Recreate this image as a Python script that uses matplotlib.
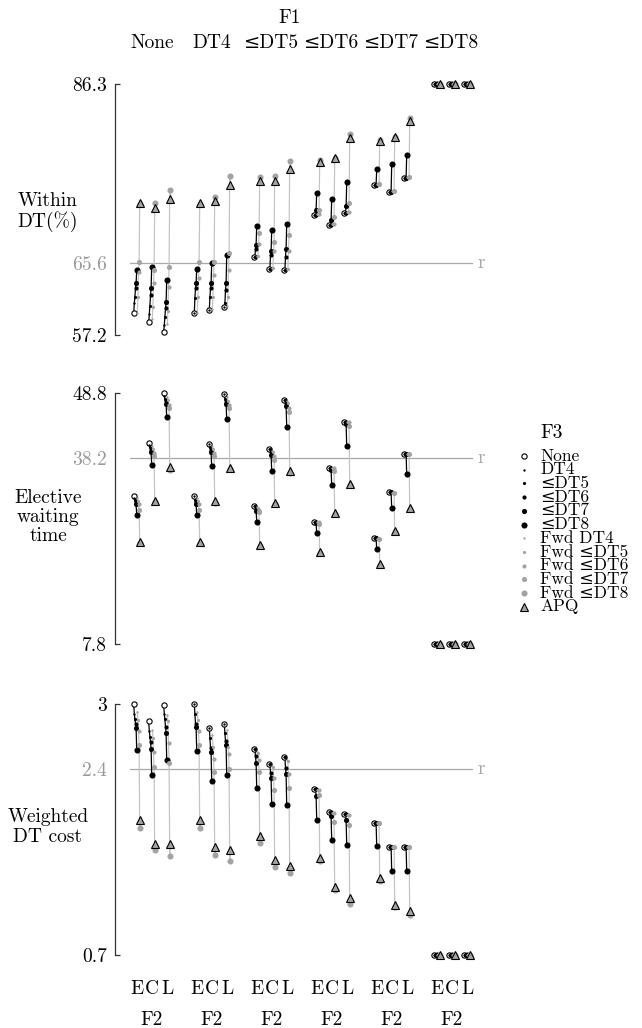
import numpy as np
import matplotlib
matplotlib.use("Agg")
import matplotlib.pyplot as plt
from matplotlib import transforms

plt.rcParams['font.family'] = ['cmr10', 'DejaVu Serif']
plt.rcParams['mathtext.fontset'] = 'cm'
plt.rcParams['axes.formatter.use_mathtext'] = True

# labels
f1_labels = ['None', 'DT4', '≤DT5', '≤DT6', '≤DT7', '≤DT8']
f2_labels = ['E', 'C', 'L']
f3_labels = ['None', 'DT4', '≤DT5', '≤DT6', '≤DT7', '≤DT8',
             'Fwd DT4', 'Fwd ≤DT5', 'Fwd ≤DT6', 'Fwd ≤DT7', 'Fwd ≤DT8', 'APQ']
panel_names = ['Within\nDT(%)', 'Elective\nwaiting\ntime', 'Weighted\nDT cost']

# axis ticks: (min, reference r, max)
within_ticks = [57.2, 65.6, 86.3]
elective_ticks = [7.8, 38.2, 48.8]
weighted_ticks = [0.7, 2.4, 3.0]

# one row per (F1, F2) column, values in F3 order
within = [
    # F1 None : E, C, L
    [59.7, 60.9, 61.6, 62.7, 63.2, 64.7, 59.8, 61.6, 64.5, 65.7, 72.4, 72.5],
    [58.7, 59.6, 60.6, 61.8, 62.6, 65.1, 59.1, 60.5, 63.2, 64.7, 72.5, 71.9],
    [57.6, 58.4, 59.3, 60.3, 61.0, 63.6, 58.5, 60.0, 62.8, 65.1, 74.0, 73.0],
    # DT4
    [59.7, 59.7, 61.5, 62.6, 63.2, 64.9, 59.8, 61.6, 63.8, 65.7, 72.4, 72.5],
    [60.1, 60.1, 61.6, 62.6, 63.2, 65.6, 60.2, 61.6, 64.2, 65.7, 73.2, 72.7],
    [60.4, 60.4, 60.9, 62.4, 63.2, 66.5, 60.6, 61.6, 64.7, 66.7, 75.6, 74.6],
    # <=DT5
    [66.3, 66.3, 66.3, 67.2, 67.6, 69.8, 66.4, 66.4, 67.8, 69.0, 75.5, 75.0],
    [64.9, 64.9, 64.9, 66.5, 66.9, 69.4, 65.0, 65.0, 66.9, 68.0, 75.6, 75.0],
    [64.7, 64.7, 64.7, 66.3, 67.2, 70.1, 64.8, 64.8, 66.9, 68.8, 77.4, 76.5],
    # <=DT6
    [71.1, 71.1, 71.1, 71.1, 71.7, 73.7, 71.2, 71.2, 71.2, 71.7, 77.5, 77.3],
    [70.0, 70.0, 70.0, 70.0, 70.5, 73.0, 70.1, 70.1, 70.1, 70.9, 77.7, 77.7],
    [71.4, 71.4, 71.4, 71.4, 72.1, 74.9, 71.5, 71.5, 71.5, 72.5, 80.5, 80.0],
    # <=DT7
    [74.6, 74.6, 74.6, 74.6, 74.6, 76.4, 74.7, 74.7, 74.7, 74.7, 79.8, 79.7],
    [73.8, 73.8, 73.8, 73.8, 73.8, 77.0, 73.9, 73.9, 73.9, 73.9, 80.2, 80.1],
    [75.4, 75.4, 75.4, 75.4, 75.4, 78.1, 75.5, 75.5, 75.5, 75.5, 82.4, 82.0],
    # <=DT8
    [86.3, 86.3, 86.3, 86.3, 86.3, 86.3, 86.3, 86.3, 86.3, 86.3, 86.3, 86.3],
    [86.3, 86.3, 86.3, 86.3, 86.3, 86.3, 86.3, 86.3, 86.3, 86.3, 86.3, 86.3],
    [86.3, 86.3, 86.3, 86.3, 86.3, 86.3, 86.3, 86.3, 86.3, 86.3, 86.3, 86.3],
]

elective = [
    [31.9, 31.6, 31.3, 31.0, 30.6, 28.9, 31.6, 31.2, 30.6, 29.7, 24.3, 24.5],
    [40.7, 40.3, 39.9, 39.5, 39.2, 37.0, 40.2, 39.6, 39.0, 38.5, 31.0, 31.2],
    [48.8, 48.3, 47.9, 47.5, 47.0, 44.8, 48.2, 47.6, 46.9, 46.4, 36.3, 36.7],
    [31.9, 31.9, 31.4, 31.0, 30.6, 28.9, 31.7, 31.2, 30.6, 29.7, 24.3, 24.5],
    [40.5, 40.5, 39.9, 39.5, 39.1, 36.8, 40.2, 39.6, 39.0, 38.5, 30.9, 31.1],
    [48.6, 48.6, 47.9, 47.4, 47.0, 44.5, 48.2, 47.5, 46.9, 46.4, 36.4, 36.6],
    [30.3, 30.3, 30.3, 29.9, 29.6, 27.8, 30.1, 30.0, 29.7, 29.3, 23.8, 24.0],
    [39.6, 39.6, 39.6, 39.1, 38.7, 36.0, 39.4, 39.2, 38.5, 37.9, 30.6, 30.8],
    [47.7, 47.7, 47.7, 47.1, 46.6, 43.3, 47.5, 47.2, 46.4, 45.7, 35.8, 36.0],
    [27.8, 27.8, 27.8, 27.8, 27.6, 25.9, 27.7, 27.7, 27.7, 27.4, 22.6, 22.8],
    [36.6, 36.6, 36.6, 36.6, 36.3, 33.7, 36.5, 36.5, 36.5, 36.0, 29.0, 29.2],
    [44.1, 44.1, 44.1, 44.1, 43.8, 40.1, 44.0, 44.0, 44.0, 43.4, 33.7, 33.9],
    [25.1, 25.1, 25.1, 25.1, 25.1, 23.3, 25.0, 25.0, 25.0, 25.0, 20.7, 20.9],
    [32.6, 32.6, 32.6, 32.6, 32.6, 30.0, 32.5, 32.5, 32.5, 32.5, 26.1, 26.3],
    [38.9, 38.9, 38.9, 38.9, 38.9, 35.5, 38.8, 38.8, 38.8, 38.8, 29.8, 30.0],
    [7.8, 7.8, 7.8, 7.8, 7.8, 7.8, 7.8, 7.8, 7.8, 7.8, 7.8, 7.8],
    [7.8, 7.8, 7.8, 7.8, 7.8, 7.8, 7.8, 7.8, 7.8, 7.8, 7.8, 7.8],
    [7.8, 7.8, 7.8, 7.8, 7.8, 7.8, 7.8, 7.8, 7.8, 7.8, 7.8, 7.8],
]

weighted = [
    [3.00, 2.91, 2.86, 2.82, 2.78, 2.58, 2.93, 2.85, 2.75, 2.62, 1.86, 1.94],
    [2.84, 2.75, 2.70, 2.65, 2.59, 2.35, 2.76, 2.69, 2.56, 2.42, 1.66, 1.72],
    [2.99, 2.91, 2.86, 2.79, 2.73, 2.49, 2.90, 2.84, 2.64, 2.46, 1.61, 1.72],
    [3.00, 3.00, 2.91, 2.82, 2.79, 2.57, 2.93, 2.85, 2.75, 2.62, 1.86, 1.94],
    [2.78, 2.78, 2.69, 2.60, 2.56, 2.29, 2.72, 2.61, 2.50, 2.38, 1.62, 1.69],
    [2.82, 2.82, 2.73, 2.66, 2.62, 2.35, 2.76, 2.61, 2.54, 2.40, 1.56, 1.66],
    [2.59, 2.59, 2.59, 2.52, 2.46, 2.23, 2.56, 2.55, 2.49, 2.38, 1.73, 1.79],
    [2.45, 2.45, 2.45, 2.37, 2.32, 2.08, 2.43, 2.42, 2.32, 2.21, 1.51, 1.57],
    [2.51, 2.51, 2.51, 2.41, 2.36, 2.07, 2.49, 2.48, 2.36, 2.23, 1.45, 1.52],
    [2.22, 2.22, 2.22, 2.22, 2.16, 1.94, 2.21, 2.21, 2.21, 2.17, 1.56, 1.59],
    [2.01, 2.01, 2.01, 2.01, 1.97, 1.75, 2.00, 2.00, 2.00, 1.92, 1.30, 1.32],
    [1.99, 1.99, 1.99, 1.99, 1.94, 1.71, 1.98, 1.98, 1.98, 1.89, 1.17, 1.22],
    [1.91, 1.91, 1.91, 1.91, 1.91, 1.70, 1.91, 1.91, 1.91, 1.91, 1.38, 1.41],
    [1.69, 1.69, 1.69, 1.69, 1.69, 1.47, 1.69, 1.69, 1.69, 1.69, 1.14, 1.16],
    [1.69, 1.69, 1.69, 1.69, 1.69, 1.47, 1.69, 1.69, 1.69, 1.69, 1.07, 1.10],
    [0.7, 0.7, 0.7, 0.7, 0.7, 0.7, 0.7, 0.7, 0.7, 0.7, 0.7, 0.7],
    [0.7, 0.7, 0.7, 0.7, 0.7, 0.7, 0.7, 0.7, 0.7, 0.7, 0.7, 0.7],
    [0.7, 0.7, 0.7, 0.7, 0.7, 0.7, 0.7, 0.7, 0.7, 0.7, 0.7, 0.7],
]

# styles
W, H = 642, 1028
GRAY = '#a3a3a3'
LINEGRAY = '#c4c4c4'
REFGRAY = '#a8a8a8'
FS = 14

def mstyle(i):
    if i == 0:
        return dict(marker='o', ms=3.8, mfc='white', mec='black', mew=0.8)
    if i == 11:
        return dict(marker='^', ms=5.2, mfc=GRAY, mec='black', mew=0.8)
    size = [1.7, 2.3, 3.0, 3.7, 4.4][(i - 1) % 5]
    col = 'black' if i <= 5 else GRAY
    return dict(marker='o', ms=size, mfc=col, mec=col, mew=0)

offsets = np.linspace(-0.22, 0.22, 12)   # small shift of each F3 series inside a column

def px(x, y):
    return x / W, 1 - y / H

fig = plt.figure(figsize=(W / 100, H / 100), dpi=100)

panels = [(within, within_ticks, 84, 335, 212),
          (elective, elective_ticks, 393, 644, 517),
          (weighted, weighted_ticks, 704, 955, 827)]

for p, (vals, ticks, ytop, ybot, ylab) in enumerate(panels):
    vals = np.array(vals)
    ax = fig.add_axes([130 / W, 1 - ybot / H, 343 / W, (ybot - ytop) / H])
    vmin, ref, vmax = ticks
    ax.set_xlim(-0.467, 22.4)
    ax.set_ylim(vmin, vmax)

    ax.axhline(ref, color=REFGRAY, lw=0.9, zorder=0)
    ax.text(1.012, ref, 'r', color=REFGRAY, fontsize=FS, va='center', ha='left',
            transform=transforms.blended_transform_factory(ax.transAxes, ax.transData))

    for col in range(vals.shape[0]):
        g, c = divmod(col, 3)
        xs = g * 4 + c + offsets
        ys = vals[col]
        ax.plot(xs[6:], ys[6:], color=LINEGRAY, lw=0.9, zorder=1, clip_on=False)
        ax.plot(xs[:6], ys[:6], color='black', lw=0.9, zorder=2, clip_on=False)
        for i in range(12):
            ax.plot(xs[i], ys[i], ls='none', zorder=3 + i, clip_on=False, **mstyle(i))

    for s in ['top', 'right', 'bottom']:
        ax.spines[s].set_visible(False)
    ax.spines['left'].set_position(('outward', 10.8))
    ax.spines['left'].set_bounds(vmin, vmax)
    ax.spines['left'].set_color('#333333')
    ax.spines['left'].set_linewidth(0.9)
    ax.set_yticks(ticks)
    ax.set_yticklabels([f'{v:g}' for v in ticks], fontsize=FS)
    ax.tick_params(axis='y', direction='in', length=3.5, width=0.9, color='#333333', pad=6)
    ax.get_yticklabels()[1].set_color('#999999')
    ax.yaxis.get_major_ticks()[1].tick1line.set_visible(False)

    if p == 2:
        ax.set_xticks([g * 4 + c for g in range(6) for c in range(3)])
        ax.set_xticklabels(f2_labels * 6, fontsize=FS)
        ax.tick_params(axis='x', length=0, pad=18)
    else:
        ax.set_xticks([])

    fig.text(*px(48, ylab), panel_names[p], fontsize=FS, ha='center', va='center',
             multialignment='center', linespacing=1.1)

# F1 labels on top, F2 labels below
fig.text(*px(290, 18), 'F1', fontsize=FS, ha='center', va='center')
for g, lab in enumerate(f1_labels):
    fig.text(*px(152 + 60 * g, 43), lab, fontsize=FS, ha='center', va='center')
    fig.text(*px(152 + 60 * g, 1020), 'F2', fontsize=FS, ha='center', va='center')

# legend for F3
lax = fig.add_axes([0, 0, 1, 1])
lax.set_xlim(0, W)
lax.set_ylim(H, 0)
lax.axis('off')
lax.text(540, 433, 'F3', fontsize=FS, ha='left', va='center')
for i, lab in enumerate(f3_labels):
    yy = 456 + 13.7 * i
    lax.plot(524, yy, ls='none', **mstyle(i))
    lax.text(540, yy, lab, fontsize=12.5, ha='left', va='center')

fig.savefig('out.png', dpi=100)
